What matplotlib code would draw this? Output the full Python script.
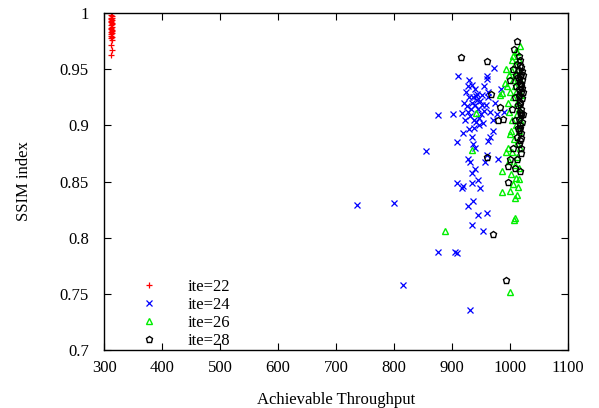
import matplotlib
matplotlib.use("Agg")
import matplotlib.pyplot as plt
from matplotlib.ticker import FuncFormatter

plt.rcParams['font.family'] = ['Liberation Serif', 'DejaVu Serif']

# ite=22
x22 = [312, 313, 311, 314, 312, 313, 312, 311, 314, 313, 312, 313, 311, 312, 314,
       313, 312, 313, 312, 311, 313, 312, 314, 312, 313, 312]
y22 = [0.998, 0.997, 0.996, 0.996, 0.995, 0.994, 0.993, 0.992, 0.991, 0.990, 0.989,
       0.988, 0.987, 0.986, 0.985, 0.984, 0.983, 0.982, 0.981, 0.980, 0.979, 0.978,
       0.976, 0.972, 0.967, 0.963]

# ite=24
x24 = [736, 800, 816, 855, 876, 876, 905, 931,
       911, 960, 960, 972, 934, 985, 902, 918,
       919, 909, 934, 937, 940, 965, 962, 971, 980, 960, 957, 928, 931, 934, 940,
       908, 917, 919, 934, 945, 949, 937, 928, 945, 960, 935, 954, 909,
       925, 930, 935, 940, 945, 928, 932, 938, 942, 950, 955, 948, 952, 920, 926,
       944, 958, 962, 966, 970, 923, 947, 953, 936, 940, 956, 930, 975, 978, 990, 963,
       927, 933, 943, 951, 938, 946, 929, 941]
y24 = [0.829, 0.831, 0.758, 0.877, 0.909, 0.787, 0.787, 0.736,
       0.944, 0.944, 0.941, 0.951, 0.936, 0.932, 0.910, 0.911,
       0.893, 0.885, 0.890, 0.883, 0.880, 0.890, 0.886, 0.895, 0.870, 0.874, 0.867,
       0.870, 0.867, 0.858, 0.861,
       0.849, 0.844, 0.846, 0.849, 0.851, 0.844, 0.833, 0.828, 0.820, 0.822, 0.811,
       0.806, 0.786,
       0.930, 0.925, 0.920, 0.918, 0.915, 0.912, 0.908, 0.905, 0.903, 0.910, 0.913,
       0.922, 0.927, 0.920, 0.917, 0.928, 0.918, 0.925, 0.912, 0.905, 0.905, 0.900,
       0.902, 0.925, 0.932, 0.935, 0.940, 0.920, 0.910, 0.912, 0.930,
       0.935, 0.915, 0.923, 0.918, 0.898, 0.907, 0.897, 0.926]

# ite=26
x26 = [888, 1007, 1000, 934, 941, 994, 987, 986, 1009,
       1017, 1012, 1015, 1008, 1003, 1010, 1018, 983, 986, 991, 995,
       1000, 1005, 1012, 1016, 998, 1003, 1010, 1015, 1001, 1007, 1012, 996, 1004,
       1013, 999, 1008, 1016, 1002, 1010, 1005, 1014, 1000, 1012, 1008, 993, 1006,
       1014, 997, 1018, 1011, 1019, 1006, 1002, 1018,
       1004, 1009, 1013, 999, 1016, 1011]
y26 = [0.806, 0.816, 0.752, 0.878, 0.911, 0.876, 0.859, 0.841, 0.818,
       0.971, 0.965, 0.958, 0.955, 0.948, 0.945, 0.940, 0.927, 0.929, 0.938, 0.935,
       0.930, 0.925, 0.920, 0.915, 0.912, 0.905, 0.900, 0.895, 0.892, 0.888, 0.884,
       0.880, 0.876, 0.872, 0.868, 0.865, 0.862, 0.857, 0.853, 0.848, 0.845, 0.842,
       0.838, 0.835, 0.950, 0.962, 0.950, 0.920, 0.905, 0.930, 0.927, 0.940, 0.895,
       0.880,
       0.958, 0.935, 0.910, 0.945, 0.852, 0.966]

# ite=28
x28 = [915, 961, 1013, 1007, 968, 983, 980, 988, 960, 997, 997, 970, 993,
       1015, 1018, 1012, 1020, 1016, 1019, 1014, 1021, 1017, 1020, 1015, 1019, 1016,
       1021, 1018, 1014, 1020, 1017, 1019, 1015, 1021, 1018, 1016, 1020, 1013, 1018,
       1015, 1020, 1009, 1017, 1012, 1019, 1010, 1005, 1000, 1008, 1003, 1006, 1001,
       1022, 1022, 1022, 1011, 1009,
       1017, 1019, 1021, 1016, 1018, 1020, 1014, 1019, 1017, 1021, 1015, 1018]
y28 = [0.961, 0.957, 0.975, 0.968, 0.928, 0.916, 0.905, 0.906, 0.872, 0.864, 0.850,
       0.803, 0.762,
       0.962, 0.958, 0.955, 0.952, 0.949, 0.946, 0.943, 0.940, 0.938, 0.935, 0.932,
       0.930, 0.927, 0.924, 0.921, 0.918, 0.915, 0.912, 0.909, 0.906, 0.903, 0.900,
       0.896, 0.893, 0.890, 0.887, 0.883, 0.880, 0.862, 0.859, 0.870, 0.875, 0.945,
       0.950, 0.940, 0.925, 0.915, 0.880, 0.870, 0.945, 0.930, 0.910, 0.935, 0.905,
       0.944, 0.937, 0.933, 0.926, 0.919, 0.911, 0.898, 0.889, 0.954, 0.948, 0.941,
       0.898]

labels = ["ite=22", "ite=24", "ite=26", "ite=28"]
xticks = [300, 400, 500, 600, 700, 800, 900, 1000, 1100]
yticks = [0.7, 0.75, 0.8, 0.85, 0.9, 0.95, 1.0]

fig = plt.figure(figsize=(5.99, 4.08), dpi=100)
ax = fig.add_axes([0.174, 0.142, 0.774, 0.826])

ax.plot(x22, y22, linestyle='none', marker='+', color='#ff0000', markersize=5,
        markeredgewidth=0.9, label=labels[0])
ax.plot(x24, y24, linestyle='none', marker='x', color='#0000ff', markersize=5,
        markeredgewidth=0.9, label=labels[1])
ax.plot(x26, y26, linestyle='none', marker='^', markerfacecolor='none',
        markeredgecolor='#00ee00', markersize=5, markeredgewidth=1.0, label=labels[2])
ax.plot(x28, y28, linestyle='none', marker='p', markerfacecolor='none',
        markeredgecolor='black', markersize=5, markeredgewidth=1.0, label=labels[3])

ax.set_xlim(300, 1100)
ax.set_ylim(0.7, 1.0)
ax.set_xticks(xticks)
ax.set_yticks(yticks)
ax.yaxis.set_major_formatter(FuncFormatter(lambda v, p: ('%g' % v)))
ax.tick_params(axis='both', direction='in', top=True, right=True, labelsize=12,
               length=5, width=0.8)
ax.tick_params(axis='y', pad=11)
ax.tick_params(axis='x', pad=7)
for s in ax.spines.values():
    s.set_linewidth(1.0)

ax.set_xlabel("Achievable Throughput", fontsize=12, labelpad=12)
ax.set_ylabel("SSIM index", fontsize=12, labelpad=20)

ax.legend(loc='lower left', bbox_to_anchor=(0.035, -0.03), frameon=False,
          fontsize=12, handletextpad=1.3, labelspacing=0.12, borderaxespad=0.3)

fig.savefig("out.png", dpi=100)
